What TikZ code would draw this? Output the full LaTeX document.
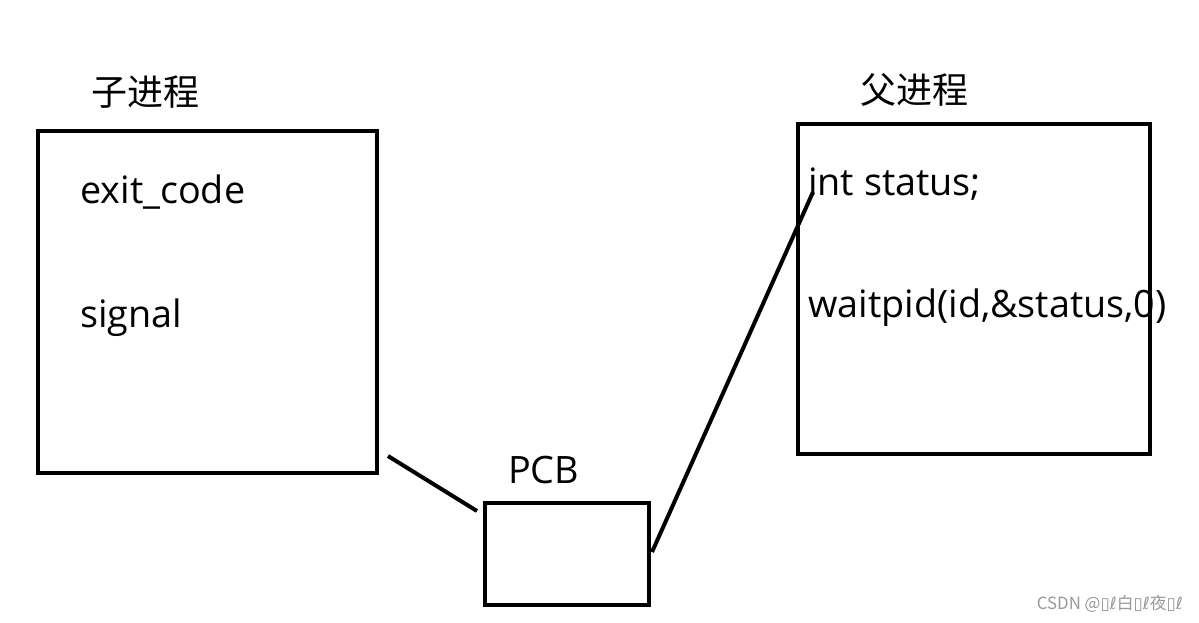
\documentclass[tikz,border=0pt]{standalone}
\usepackage{fontspec}
\setmainfont{Open Sans}
\newfontfamily\cjk{Noto Sans CJK SC}
\newfontfamily\dvs{DejaVu Sans}
\begin{document}
\begin{tikzpicture}[x=0.75pt,y=-0.75pt,
  box/.style={draw=black,line width=3pt},
  conn/.style={draw=black,line width=3pt},
  code/.style={anchor=base west,inner sep=0pt,font=\fontsize{28.3}{32}\selectfont},
  title/.style={anchor=center,inner sep=0pt,font=\cjk\fontsize{27}{30}\selectfont},
  wmark/.style={anchor=east,inner sep=0pt,text=black!40,font=\cjk\fontsize{12.6}{14}\selectfont}]
\useasboundingbox (0,0) rectangle (1199,622);
\fill[white] (0,0) rectangle (1199,622);
% child process
\node[title] (tchild) at (145,92) {子进程};
\draw[box] (38,131) rectangle (377,473);
\node[code] (exit) at (80,203) {exit\_code};
\node[code] (sig) at (80,327) {signal};
% parent process
\node[title] (tparent) at (914,90) {父进程};
\draw[box] (798,124) rectangle (1150,454);
\node[code] (st) at (808,195) {int status;};
\node[code] (wp) at (808,317) {waitpid(id,\&status,0)};
% PCB
\node[code] (pcbl) at (508,483) {PCB};
\draw[box] (485,503) rectangle (649,605);
% connectors
\coordinate (c1a) at (388,456);
\coordinate (c1b) at (477,511);
\coordinate (c2a) at (652,552);
\coordinate (c2b) at (813,192);
\draw[conn] (c1a) -- (c1b);
\draw[conn] (c2a) -- (c2b);
% watermark
\node[wmark] (wm) at (1183,604) {CSDN @{\dvs ▯ℓ}白{\dvs ▯ℓ}夜{\dvs ▯ℓ}};
\end{tikzpicture}
\end{document}
